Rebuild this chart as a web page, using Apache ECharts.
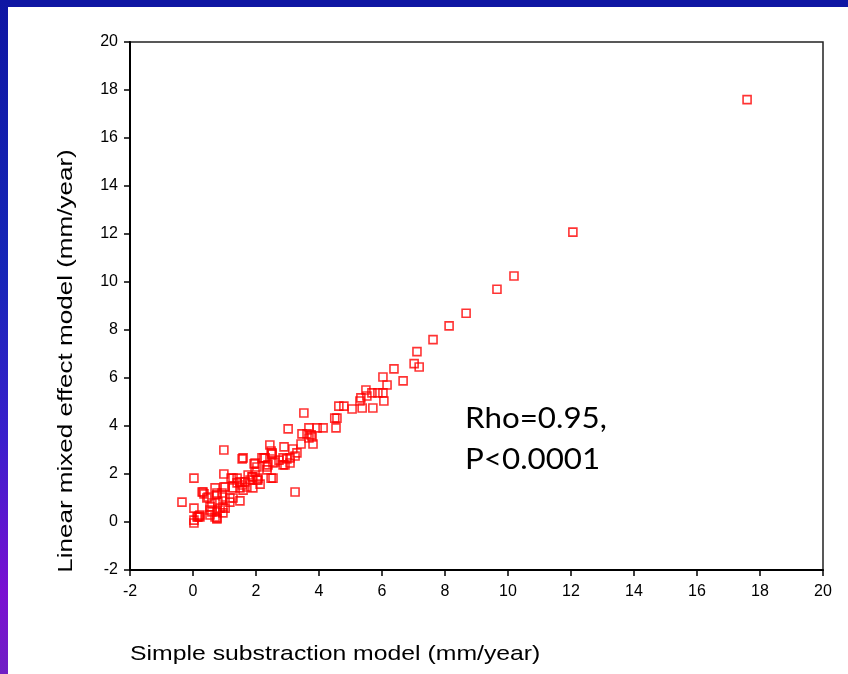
<!DOCTYPE html>
<html>
<head>
<meta charset="utf-8">
<script src="https://cdn.jsdelivr.net/npm/echarts@6/dist/echarts.min.js"></script>
<style>
html,body{margin:0;padding:0;background:#fff;width:848px;height:674px;overflow:hidden;}
#top{position:absolute;left:0;top:0;width:848px;height:7px;background:#0f16a3;z-index:2;}
#left{position:absolute;left:0;top:0;width:8px;height:674px;z-index:2;
 background:linear-gradient(to bottom,#0f16a3 0%,#1626b8 40%,#3a1fcc 65%,#7a10d2 88%,#7020c4 100%);}
#chart{position:absolute;left:0;top:0;width:848px;height:674px;}
</style>
</head>
<body>
<div id="top"></div>
<div id="left"></div>
<div id="chart"></div>
<script>
const xTicks = [-2,0,2,4,6,8,10,12,14,16,18,20];
const yTicks = [-2,0,2,4,6,8,10,12,14,16,18,20];
const xTitle = "Simple substraction model (mm/year)";
const yTitle = "Linear mixed effect model (mm/year)";
const annotation = ["Rho=0.95,", "P<0.0001"];

const simpleX = [
17.59,12.06,10.19,9.65,8.67,8.13,7.62,7.11,7.02,7.18,6.38,6.67,6.03,6.16,6.03,6.06,
5.49,5.52,5.33,5.30,5.68,5.87,5.71,5.37,5.05,4.79,4.63,4.57,4.50,3.52,3.68,3.94,4.13,4.54,
3.02,3.46,3.75,3.81,3.43,2.89,3.17,3.30,3.08,2.86,3.08,2.86,2.44,2.51,2.60,2.29,2.35,1.97,1.97,2.54,2.48,1.59,3.24,1.75,1.81,1.65,1.56,1.59,
0.98,2.19,0.98,0.03,1.27,1.40,1.87,2.06,1.90,1.71,1.49,0.98,0.70,0.29,0.35,0.76,0.95,1.27,1.49,1.17,0.79,0.44,0.54,0.86,1.02,0.60,0.95,0.70,0.76,-0.35,0.03,0.16,0.22,0.03,0.03,0.19,0.54,2.13,
3.68,3.78,3.62,2.98,3.24,2.73,2.92,2.54,2.38,2.35,2.25,1.94,2.03,1.56,1.21,1.40,1.90,2.06,1.49,2.03,1.02,1.27,0.32,0.48,0.76,0.92,1.17,0.60,0.54,0.76,0.95,0.13,0.22,0.76,2.48,2.51
];
const mixedY = [
17.60,12.08,10.25,9.70,8.70,8.17,7.60,7.10,6.60,6.46,6.38,5.88,6.04,5.71,5.38,5.04,
5.50,5.25,5.17,5.04,5.38,5.38,4.75,4.75,4.71,4.83,4.83,4.33,4.33,4.54,3.92,3.92,3.92,3.92,
3.88,3.67,3.63,3.25,3.25,3.13,3.04,2.88,2.67,2.67,2.46,2.38,3.21,2.88,2.50,2.67,2.29,2.46,2.08,1.83,1.83,2.67,1.25,1.96,1.75,1.67,1.54,1.33,
3.00,2.67,2.00,1.83,1.83,1.63,1.88,1.75,1.42,1.46,1.42,1.46,1.42,1.25,1.17,1.21,1.04,1.00,0.88,0.83,0.83,1.00,0.63,0.58,0.58,0.42,0.38,0.21,0.17,0.83,0.58,0.21,0.29,0.08,-0.04,0.25,0.29,1.58,
3.50,3.54,3.67,2.63,2.75,2.58,2.38,2.46,2.38,2.17,2.67,2.42,2.29,2.63,1.83,1.83,1.88,1.83,1.67,1.75,1.46,1.42,1.25,1.04,1.13,1.21,1.00,0.79,0.50,0.42,0.63,0.21,0.21,0.13,2.96,2.83
];

const points = simpleX.map((x, i) => [x, mixedY[i]]);

const chart = echarts.init(document.getElementById('chart'), null, {renderer:'canvas'});
const axisFont = {fontFamily:'"Liberation Sans", Arial, sans-serif', fontSize:16, color:'#000'};
chart.setOption({
  backgroundColor:'transparent',
  animation:false,
  grid:{left:130, right:25, top:42, bottom:104, show:true, borderColor:'#222', borderWidth:1.5, backgroundColor:'transparent'},
  xAxis:{type:'value', min:xTicks[0], max:xTicks[xTicks.length-1], interval:2,
    axisLine:{show:true, onZero:false, lineStyle:{color:'#000', width:2}},
    axisTick:{show:true, inside:false, length:6, lineStyle:{color:'#000', width:1.5}},
    axisLabel:Object.assign({margin:14}, axisFont),
    splitLine:{show:false}},
  yAxis:{type:'value', min:yTicks[0], max:yTicks[yTicks.length-1], interval:2,
    axisLine:{show:true, onZero:false, lineStyle:{color:'#000', width:2}},
    axisTick:{show:true, inside:false, length:6, lineStyle:{color:'#000', width:1.5}},
    axisLabel:Object.assign({margin:12}, axisFont),
    splitLine:{show:false}},
  series:[{type:'scatter', data:points, symbol:'rect', symbolSize:8,
    itemStyle:{color:'rgba(0,0,0,0)', borderColor:'#ff0000', borderWidth:1.6}}],
  graphic:[
    {type:'text', x:130, y:654, scaleX:1.18, style:{text:xTitle, font:'21px "Liberation Sans", Arial, sans-serif', fill:'#000', align:'left', verticalAlign:'middle'}},
    {type:'text', x:66, y:361, rotation:Math.PI/2, scaleX:1.24, style:{text:yTitle, font:'21px "Liberation Sans", Arial, sans-serif', fill:'#000', align:'center', verticalAlign:'middle'}},
    {type:'text', x:465, y:398, scaleX:1.08, style:{text:annotation.join('\n'), font:'29px Lato, "Open Sans", sans-serif', lineHeight:41, fill:'#000', align:'left', verticalAlign:'top'}}
  ]
});
</script>
</body>
</html>
